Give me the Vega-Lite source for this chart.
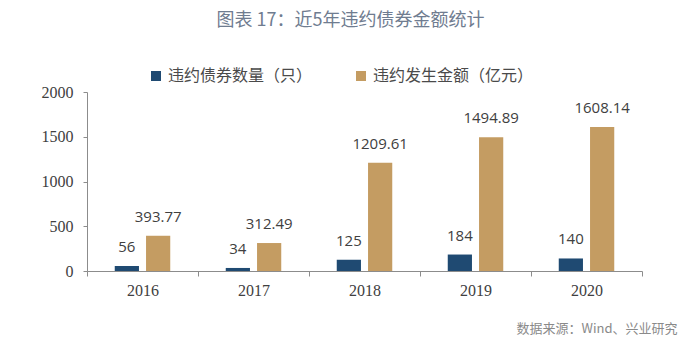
{
  "$schema": "https://vega.github.io/schema/vega-lite/v6.json",
  "width": 555,
  "height": 179,
  "autosize": {"type": "none"},
  "padding": {"left": 87, "top": 92, "right": 58, "bottom": 89},
  "background": "white",
  "title": {
    "text": "图表 17：近5年违约债券金额统计",
    "font": "Noto Sans CJK SC",
    "fontSize": 18,
    "fontWeight": "normal",
    "color": "#6f7c90",
    "anchor": "middle",
    "dx": -14,
    "offset": 38
  },
  "data": {
    "values": [
      {"year": "2016", "series": "违约债券数量（只）", "value": 56},
      {"year": "2016", "series": "违约发生金额（亿元）", "value": 393.77},
      {"year": "2017", "series": "违约债券数量（只）", "value": 34},
      {"year": "2017", "series": "违约发生金额（亿元）", "value": 312.49},
      {"year": "2018", "series": "违约债券数量（只）", "value": 125},
      {"year": "2018", "series": "违约发生金额（亿元）", "value": 1209.61},
      {"year": "2019", "series": "违约债券数量（只）", "value": 184},
      {"year": "2019", "series": "违约发生金额（亿元）", "value": 1494.89},
      {"year": "2020", "series": "违约债券数量（只）", "value": 140},
      {"year": "2020", "series": "违约发生金额（亿元）", "value": 1608.14}
    ]
  },
  "encoding": {
    "x": {
      "field": "year",
      "type": "nominal",
      "scale": {"paddingInner": 0, "paddingOuter": 0},
      "axis": {
        "labelAngle": 0,
        "labelFont": "Liberation Serif",
        "labelFontSize": 16,
        "labelColor": "#404040",
        "labelPadding": 6,
        "domainColor": "#8c8c8c",
        "tickColor": "#8c8c8c",
        "tickSize": 5,
        "tickBand": "extent",
        "title": "数据来源：Wind、兴业研究",
        "titleFont": "Noto Sans CJK SC",
        "titleFontSize": 13,
        "titleFontWeight": "normal",
        "titleColor": "#8a8a8a",
        "titleAnchor": "end",
        "titleAlign": "right",
        "titleX": 590,
        "titleY": 57,
        "titleBaseline": "middle"
      }
    },
    "xOffset": {
      "field": "series",
      "type": "nominal",
      "sort": ["违约债券数量（只）", "违约发生金额（亿元）"],
      "scale": {"paddingInner": 0.226, "paddingOuter": 0.887}
    },
    "y": {
      "field": "value",
      "type": "quantitative",
      "scale": {"domain": [0, 2000]},
      "axis": {
        "values": [0, 500, 1000, 1500, 2000],
        "format": "d",
        "grid": false,
        "title": null,
        "labelFont": "Liberation Serif",
        "labelFontSize": 16,
        "labelColor": "#404040",
        "labelPadding": 10,
        "domainColor": "#8c8c8c",
        "tickColor": "#8c8c8c",
        "tickSize": 4
      }
    }
  },
  "layer": [
    {
      "mark": {"type": "bar"},
      "encoding": {
        "color": {
          "field": "series",
          "type": "nominal",
          "sort": ["违约债券数量（只）", "违约发生金额（亿元）"],
          "scale": {
            "domain": ["违约债券数量（只）", "违约发生金额（亿元）"],
            "range": ["#1f4a72", "#c49c62"]
          },
          "legend": {
            "title": null,
            "orient": "none",
            "legendX": 61,
            "legendY": -24,
            "direction": "horizontal",
            "columns": 2,
            "columnPadding": 40,
            "symbolType": "square",
            "symbolSize": 100,
            "symbolStrokeWidth": 0,
            "labelFont": "Noto Sans CJK SC",
            "labelFontSize": 16,
            "labelLimit": 400,
            "labelColor": "#4a4a4a",
            "labelOffset": 4
          }
        }
      }
    },
    {
      "mark": {
        "type": "text",
        "baseline": "bottom",
        "dy": -11,
        "font": "Open Sans",
        "fontSize": 15,
        "color": "#404040"
      },
      "encoding": {
        "text": {"field": "value", "type": "nominal"}
      }
    }
  ],
  "config": {
    "view": {"stroke": null}
  }
}
